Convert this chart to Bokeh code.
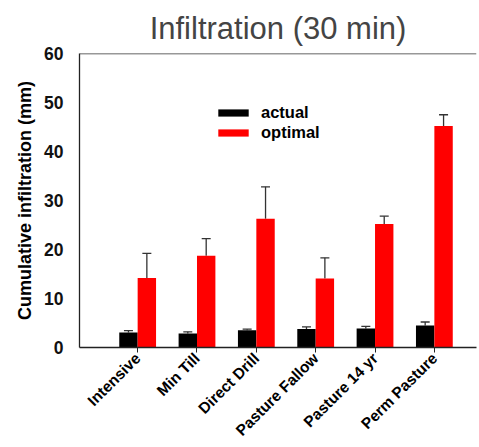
import math
import numpy as np
from bokeh.plotting import figure
from bokeh.models import (Range1d, FixedTicker, Whisker, TeeHead, ColumnDataSource,
                          Legend, LegendItem, Span)
from bokeh.embed import file_html
from bokeh.resources import INLINE

categories = ["Intensive", "Min Till", "Direct Drill", "Pasture Fallow", "Pasture 14 yr", "Perm Pasture"]
actual = [3.05, 2.85, 3.5, 3.8, 3.9, 4.5]
actual_err = [0.4, 0.35, 0.25, 0.4, 0.4, 0.7]
optimal = [14.2, 18.7, 26.3, 14.1, 25.2, 45.2]
optimal_err = [5.0, 3.5, 6.5, 4.2, 1.6, 2.3]
y_ticks = [0, 10, 20, 30, 40, 50, 60]

FONT = "Liberation Sans"
idx = np.arange(len(categories))
bw = 0.31
src_a = ColumnDataSource(dict(x=idx - bw / 2, top=actual, up=np.array(actual) + np.array(actual_err)))
src_o = ColumnDataSource(dict(x=idx + bw / 2, top=optimal, up=np.array(optimal) + np.array(optimal_err)))

p = figure(width=479, height=447, output_backend="svg", toolbar_location=None,
           x_range=Range1d(-0.98, 5.71), y_range=Range1d(0, 60),
           min_border_left=79, min_border_right=3, min_border_top=53, min_border_bottom=100,
           title="Infiltration (30 min)")
p.outline_line_color = None
p.grid.visible = False
p.background_fill_color = "white"

p.title.align = "center"
p.title.text_font = FONT
p.title.text_font_size = "31px"
p.title.text_font_style = "normal"
p.title.text_color = "#444444"
p.title.standoff = 16

for src in (src_a, src_o):
    w = Whisker(base="x", upper="up", lower="top", source=src, dimension="height",
                line_color="#333333", line_width=1.3,
                upper_head=TeeHead(size=9, line_color="#333333", line_width=1.3), lower_head=None)
    p.add_layout(w)

ra = p.vbar(x="x", top="top", width=bw, source=src_a, fill_color="black", line_color=None)
ro = p.vbar(x="x", top="top", width=bw, source=src_o, fill_color="#ff0000", line_color=None)

p.add_layout(Span(location=60, dimension="width", line_color="#333333", line_width=1.3))

# axes
xa = p.xaxis[0]
xa.ticker = FixedTicker(ticks=list(idx))
xa.major_label_overrides = {int(i): c for i, c in zip(idx, categories)}
xa.major_label_orientation = math.pi / 4
xa.major_label_text_font = FONT
xa.major_label_text_font_style = "bold"
xa.major_label_text_font_size = "15.5px"
xa.major_label_text_color = "black"
xa.major_tick_out = 5
xa.major_tick_in = 0
xa.minor_tick_line_color = None
xa.axis_line_color = "#222222"
xa.axis_line_width = 1.3
xa.major_tick_line_color = "#222222"
xa.major_label_standoff = 3

ya = p.yaxis[0]
ya.ticker = FixedTicker(ticks=y_ticks)
ya.major_tick_out = 0
ya.major_tick_in = 0
ya.minor_tick_line_color = None
ya.major_label_text_font = FONT
ya.major_label_text_font_style = "bold"
ya.major_label_text_font_size = "17.5px"
ya.major_label_text_color = "#111111"
ya.major_label_standoff = 16
ya.axis_line_color = "#222222"
ya.axis_line_width = 1.3
ya.axis_label = "Cumulative infiltration (mm)"
ya.axis_label_text_font = FONT
ya.axis_label_text_font_style = "bold"
ya.axis_label_text_font_size = "18px"
ya.axis_label_text_color = "black"
ya.axis_label_standoff = 6

legend = Legend(items=[LegendItem(label="actual", renderers=[ra]),
                       LegendItem(label="optimal", renderers=[ro])],
                location=(135, 205), padding=0, margin=0, spacing=1,
                glyph_width=38, glyph_height=9, label_height=9, label_standoff=9,
                border_line_color=None, background_fill_alpha=0,
                label_text_font=FONT, label_text_font_style="bold",
                label_text_font_size="16.5px", label_text_color="black")
p.add_layout(legend, "center")

open("out.html", "w").write(file_html(p, INLINE))
